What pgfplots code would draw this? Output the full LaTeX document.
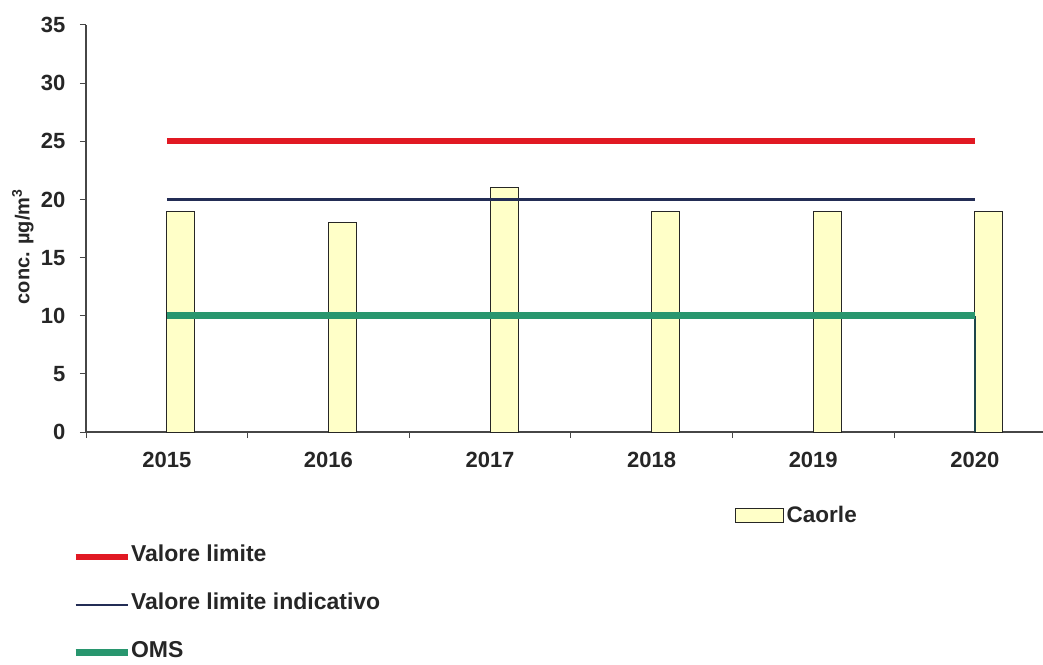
\documentclass[border=0pt]{standalone}
\usepackage{fontspec}
\setmainfont{Liberation Sans}
\usepackage{pgfplots}
\pgfplotsset{compat=1.18}
\definecolor{limred}{RGB}{225,25,35}
\definecolor{limnavy}{RGB}{35,45,85}
\definecolor{omsgreen}{RGB}{40,150,110}
\definecolor{barfill}{RGB}{255,255,200}
\definecolor{axisgray}{RGB}{70,70,70}
\definecolor{dropteal}{RGB}{30,70,75}
\pgfplotsset{boxlegend/.style={legend image code/.code={\draw[##1] (0pt,-7pt) rectangle (48pt,7pt);}}}
\begin{document}
\begin{tikzpicture}
\useasboundingbox (-86pt,-232pt) rectangle (957pt,432pt);
\begin{axis}[
  at={(0,0)}, anchor=south west, scale only axis,
  width=956.7pt, height=407pt,
  xmin=-0.5, xmax=5.42, ymin=0, ymax=35,
  axis lines*=left,
  axis line style={draw=axisgray, line width=1.2pt},
  xtick={0,1,2,3,4,5},
  xticklabels={2015,2016,2017,2018,2019,2020},
  xtick style={draw=none},
  ytick={0,5,10,15,20,25,30,35},
  ytick style={draw=axisgray, line width=1pt},
  major tick length=6pt,
  tick align=outside,
  /pgf/number format/assume math mode=true,
  tick label style={font=\bfseries\fontsize{22}{25}\selectfont, text=black!85},
  xticklabel style={yshift=-11pt},
  yticklabel style={xshift=-11pt},
  ylabel={conc. µg/m\textsuperscript{3}},
  ylabel style={at={(axis description cs:-0.066,0.455)}, anchor=center, font=\bfseries\fontsize{20}{23}\selectfont, text=black!85},
  legend style={at={(axis description cs:0.678,-0.204)}, anchor=west, draw=none, fill=none, inner sep=0pt,
    font=\bfseries\fontsize{22.5}{25}\selectfont, text=black!85, cells={anchor=west}, nodes={inner sep=3pt}},
]
\addplot[ybar, bar width=28pt, bar shift=14pt, fill=barfill, draw=black!85, line width=0.9pt, boxlegend]
  coordinates {(0,19) (1,18) (2,21) (3,19) (4,19) (5,19)};
\addlegendentry{Caorle}
\addplot[forget plot, limred, line width=6pt] coordinates {(0,25) (1,25) (2,25) (3,25) (4,25) (5,25)};
\addplot[forget plot, limnavy, line width=2.8pt] coordinates {(0,20) (1,20) (2,20) (3,20) (4,20) (5,20)};
\addplot[forget plot, dropteal, line width=1.5pt] coordinates {(5,0) (5,10)};
\addplot[forget plot, omsgreen, line width=7pt] coordinates {(0,10) (1,10) (2,10) (3,10) (4,10) (5,10)};
\end{axis}
\begin{axis}[
  at={(0,0)}, anchor=south west, scale only axis,
  width=956.7pt, height=407pt,
  xmin=-0.5, xmax=5.42, ymin=0, ymax=35,
  axis lines*=left,
  axis line style={draw=none},
  xtick={-0.5,0.5,1.5,2.5,3.5,4.5},
  xticklabels={},
  ytick=\empty,
  xtick style={draw=axisgray, line width=1pt},
  major tick length=6pt,
  tick align=outside,
  legend style={at={(axis description cs:-0.0146,-0.2776)}, anchor=north west, draw=none, fill=none,
    inner sep=0pt, outer sep=0pt, row sep=24pt, column sep=0pt,
    font=\bfseries\fontsize{23}{26}\selectfont, text=black!85,
    cells={anchor=west}, nodes={inner xsep=0pt, inner ysep=2pt, text height=15pt, text depth=5pt}},
  legend cell align=left,
  legend image code/.code={\draw[#1] (0pt,0pt) -- (52pt,0pt);},
]
\addlegendimage{limred, line width=6pt}
\addlegendentry{Valore limite}
\addlegendimage{limnavy, line width=2.8pt}
\addlegendentry{Valore limite indicativo}
\addlegendimage{omsgreen, line width=7pt}
\addlegendentry{OMS}
\end{axis}
\end{tikzpicture}
\end{document}
